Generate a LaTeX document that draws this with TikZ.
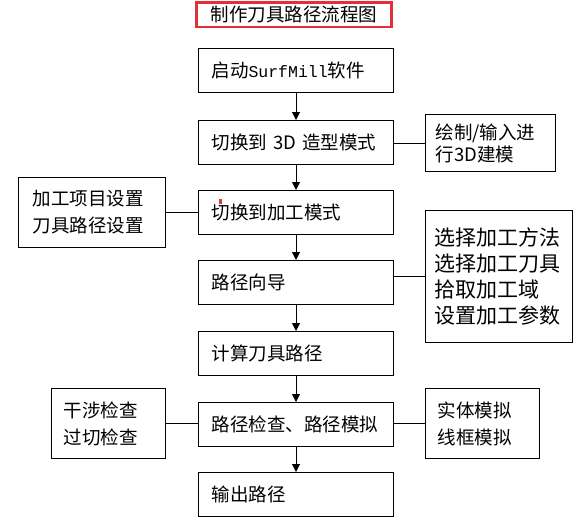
\documentclass[tikz,border=0pt]{standalone}
\usepackage{fontspec}
\setmainfont{Noto Sans CJK SC}
\setmonofont{Liberation Mono}
\usepackage{tikz}
\usetikzlibrary{arrows.meta}
\definecolor{titleRed}{rgb}{0.9, 0.18, 0.22}
\definecolor{markRed}{rgb}{0.82, 0.25, 0.25}

\begin{document}
\begin{tikzpicture}[x=1pt, y=-1pt, every node/.style={inner sep=0pt},
	mainbox/.style={draw, line width=1pt, anchor=north west, align=left, text width=169pt, inner xsep=13pt, minimum height=44pt, font=\fontsize{18.5}{22}\selectfont},
	sidebox/.style={draw, line width=1pt, anchor=north west, align=left, font=\fontsize{18.5}{27}\selectfont},
	flow/.style={line width=1pt, -{Triangle[width=8pt, length=8pt]}},
	link/.style={line width=1pt}]
	\useasboundingbox (0,0) rectangle (588,524);
	% title
	\node[draw=titleRed, line width=2.6pt, anchor=north west, minimum width=195pt, minimum height=24.5pt, font=\fontsize{18.5}{22}\selectfont] (title) at (195,1.3) {制作刀具路径流程图};
	% main steps
	\node[mainbox] (start) at (198,48) {启动{\ttfamily\fontsize{16.5}{16.5}\selectfont SurfMill}软件};
	\node[mainbox] (model) at (198,120) {切换到 3D 造型模式};
	\node[mainbox] (machining) at (198,190) {切换到加工模式};
	\node[mainbox] (wizard) at (198,260) {路径向导};
	\node[mainbox] (compute) at (198,331) {计算刀具路径};
	\node[mainbox] (check) at (198,402) {路径检查、路径模拟};
	\node[mainbox] (output) at (198,472) {输出路径};
	\fill[markRed] (219,199) rectangle (222,204);
	% side notes
	\node[sidebox, text width=110pt, inner xsep=10pt, minimum height=57pt, font=\fontsize{18.5}{22}\selectfont] (modeling) at (425,114) {绘制/输入进\\行3D建模};
	\node[sidebox, text width=119pt, inner xsep=14pt, minimum height=70pt] (settings) at (18,177) {加工项目设置\\刀具路径设置};
	\node[sidebox, text width=129pt, inner xsep=9pt, minimum height=132pt, font=\fontsize{21}{25.7}\selectfont] (strategy) at (425,210) {选择加工方法\\选择加工刀具\\拾取加工域\\设置加工参数};
	\node[sidebox, text width=90pt, inner xsep=12pt, minimum height=70pt] (checks) at (51,388) {干涉检查\\过切检查};
	\node[sidebox, text width=90pt, inner xsep=12pt, minimum height=70pt] (simulate) at (425,388) {实体模拟\\线框模拟};

	\foreach \a/\b in {start/model, model/machining, machining/wizard, wizard/compute, compute/check, check/output}
		\draw[flow] (\a) -- (\b);

	\draw[link] (modeling.west) -- (modeling.west -| model.east);
	\draw[link] (settings.east) -- (settings.east -| machining.west);
	\draw[link] (strategy.west) -- (strategy.west -| wizard.east);
	\draw[link] (checks.east) -- (checks.east -| check.west);
	\draw[link] (simulate.west) -- (simulate.west -| check.east);
\end{tikzpicture}
\end{document}
